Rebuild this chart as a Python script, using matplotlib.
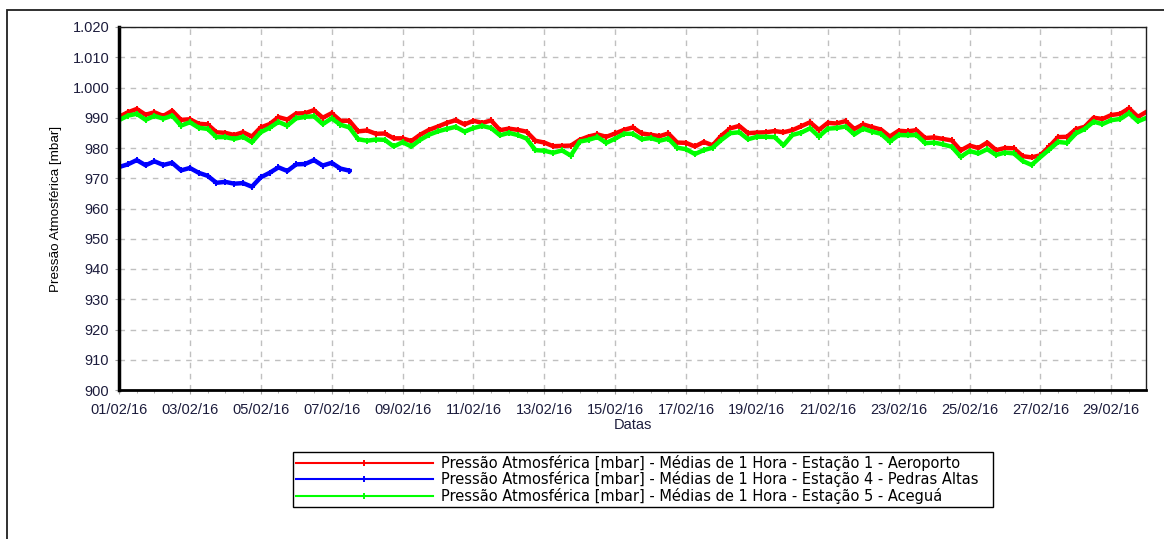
import numpy as np
import pandas as pd
import matplotlib
matplotlib.use("Agg")
import matplotlib.pyplot as plt
import matplotlib.dates as mdates
from matplotlib.ticker import FuncFormatter, MultipleLocator
from matplotlib.patches import Rectangle

plt.rcParams['font.family'] = ['Liberation Sans', 'DejaVu Sans']

# 6-hourly values, starting 01/02/2016 00:00
red = [990.3, 991.8, 992.9, 991.0, 991.8, 990.6, 992.3, 989.3, 989.5, 988.0,
       987.8, 985.2, 985.0, 984.3, 985.2, 983.8, 986.8, 987.9, 990.2, 989.4,
       991.4, 991.5, 992.5, 990.0, 991.5, 989.0, 989.0, 985.5, 985.8, 984.7,
       984.8, 983.2, 983.2, 982.3, 984.4, 986.0, 987.1, 988.3, 989.2,
       987.8, 989.0, 988.3, 989.1, 985.9, 986.4, 986.0, 985.4, 982.4, 981.8,
       980.6, 980.7, 980.8, 982.7, 983.8, 984.5, 983.7, 984.8, 986.0,
       986.8, 984.8, 984.4, 983.9, 984.8, 981.8, 981.7, 980.5, 982.0, 980.9,
       984.1, 986.5, 987.3, 984.9, 985.1, 985.2, 985.6, 985.2, 985.9,
       987.2, 988.5, 986.0, 988.3, 988.1, 988.9, 986.3, 987.8, 986.9, 986.1,
       983.8, 985.7, 985.5, 985.9, 983.3, 983.5, 983.0, 982.5, 979.2, 980.8,
       980.0, 981.8, 979.3, 980.0, 979.9, 977.3, 976.9, 977.6, 980.5, 983.6,
       983.7, 986.2, 987.0, 990.0, 989.6, 990.9, 991.3, 993.1, 990.3, 992.0]

green = [989.2, 990.7, 991.3, 989.3, 990.6, 989.7, 990.7, 987.4, 988.5, 986.7,
         986.3, 983.6, 983.6, 983.0, 983.7, 981.9, 985.2, 986.7, 988.6, 987.4,
         989.8, 990.3, 990.5, 987.9, 989.8, 987.7, 986.8, 982.9, 982.4, 982.8,
         982.7, 980.5, 981.9, 980.5, 982.7, 984.4, 985.5, 986.3, 987.0,
         985.4, 986.6, 987.3, 986.6, 984.2, 985.0, 984.3, 983.1, 979.3, 979.1,
         978.4, 979.2, 977.5, 982.1, 982.7, 983.6, 981.7, 983.1, 984.7,
         984.7, 982.9, 983.3, 982.4, 983.1, 980.1, 979.6, 978.0, 979.3, 980.1,
         982.7, 984.9, 985.2, 982.9, 983.7, 983.7, 983.6, 980.9, 984.3,
         985.1, 986.5, 983.8, 986.4, 986.6, 987.1, 984.5, 986.4, 985.4, 984.7,
         982.1, 984.3, 984.2, 984.3, 981.6, 981.8, 981.2, 980.4, 977.1, 979.0,
         978.2, 979.6, 977.7, 978.5, 978.2, 975.7, 974.4, 977.0, 979.5, 982.0,
         981.7, 984.8, 986.3, 988.7, 987.9, 989.2, 989.6, 991.5, 988.8, 990.0]

blue = [973.7, 974.6, 976.0, 974.3, 975.6, 974.4, 975.1, 972.6, 973.4, 971.8,
        970.8, 968.5, 968.8, 968.2, 968.4, 967.2, 970.3, 971.8, 973.6, 972.4,
        974.6, 974.7, 976.0, 974.2, 975.1, 973.2, 972.5]

labels = ['Pressão Atmosférica [mbar] - Médias de 1 Hora - Estação 1 - Aeroporto',
          'Pressão Atmosférica [mbar] - Médias de 1 Hora - Estação 4 - Pedras Altas',
          'Pressão Atmosférica [mbar] - Médias de 1 Hora - Estação 5 - Aceguá']

t_red = pd.date_range('2016-02-01', periods=len(red), freq='6h')
t_green = pd.date_range('2016-02-01', periods=len(green), freq='6h')
t_blue = pd.date_range('2016-02-01', periods=len(blue), freq='6h')

fig = plt.figure(figsize=(11.64, 5.39), dpi=100)
W, H = 1164, 539
ax = fig.add_axes([119 / W, 1 - 390 / H, (1146 - 119) / W, (390 - 27) / H])

# outer frame (cut by the image border on the right and bottom)
fig.patches.append(Rectangle((7 / W, -0.5), 2.0, 1 - 10 / H + 0.5,
                             transform=fig.transFigure, fill=False,
                             edgecolor='#202020', linewidth=1.3))

kw = dict(linewidth=3.2, marker='+', markersize=5, markeredgewidth=1.4)
ax.plot(t_red, red, color='#ff0000', label=labels[0], **kw)
ax.plot(t_blue, blue, color='#0000ff', label=labels[1], **kw)
ax.plot(t_green, green, color='#00ff00', label=labels[2], **kw)

ax.set_ylim(900, 1020)
ax.yaxis.set_major_locator(MultipleLocator(10))
ax.yaxis.set_major_formatter(FuncFormatter(
    lambda v, p: f"{v / 1000:.3f}" if v >= 1000 else f"{v:.0f}"))

ax.set_xlim(pd.Timestamp('2016-02-01'), pd.Timestamp('2016-02-29 23:30'))
ax.set_xticks(pd.date_range('2016-02-01', '2016-02-29', freq='2D'))
ax.set_xticks(pd.date_range('2016-02-01', '2016-02-29 12:00', freq='12h'), minor=True)
ax.xaxis.set_major_formatter(mdates.DateFormatter('%d/%m/%y'))

ax.grid(True, which='major', color='#c0c0c0', linestyle=(0, (4, 4)), linewidth=1)
ax.set_axisbelow(True)

for s in ['top', 'right']:
    ax.spines[s].set_linewidth(1.0)
    ax.spines[s].set_color('#202020')
ax.spines['left'].set_linewidth(2.5)
ax.spines['bottom'].set_linewidth(2.0)

tick_color = '#1c1c3c'
ax.tick_params(axis='both', which='major', labelsize=10.5, labelcolor=tick_color,
               length=3, color='#a0a0a0', direction='out')
ax.tick_params(axis='x', which='minor', length=2, color='#a0a0a0')
ax.tick_params(axis='x', pad=6)
ax.tick_params(axis='y', pad=4)

ax.set_xlabel('Datas', fontsize=10.5, color=tick_color, labelpad=1)
ax.set_ylabel('Pressão Atmosférica [mbar]', fontsize=9.7, color='#000000')
ax.yaxis.set_label_coords((62 - 119) / (1146 - 119), 0.5)

leg = fig.legend(loc='upper left',
                 bbox_to_anchor=(293 / W, 1 - 503 / H, 700 / W, 51 / H),
                 mode='expand', borderaxespad=0,
                 prop={'family': 'DejaVu Sans', 'size': 10.5},
                 handlelength=9.4, handletextpad=0.55,
                 labelspacing=0.03, borderpad=0.2, numpoints=1,
                 fancybox=False, framealpha=1, edgecolor='#000000')
leg.get_frame().set_linewidth(1.0)
for h in leg.legend_handles:
    h.set_linewidth(1.5)
    h.set_marker('|')
    h.set_markersize(5)

fig.savefig('out.png', dpi=100)
